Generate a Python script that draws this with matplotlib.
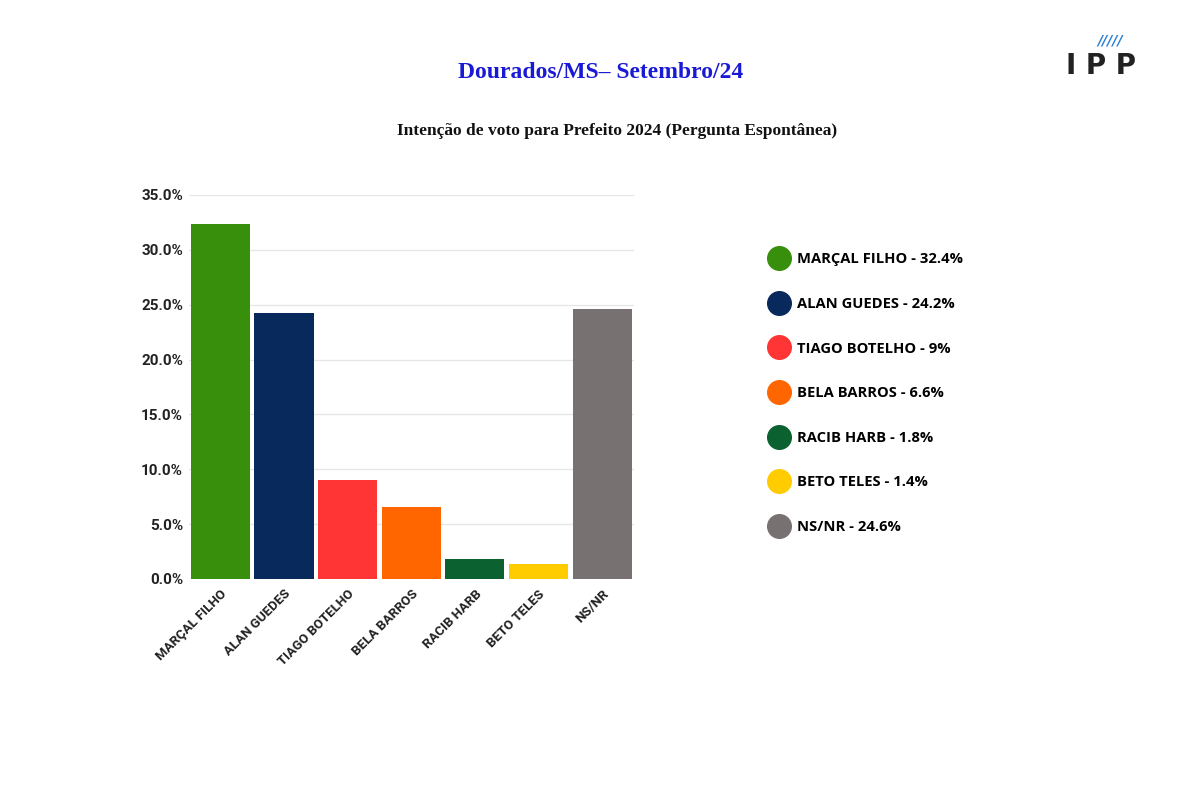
import matplotlib
matplotlib.use("Agg")
import matplotlib.pyplot as plt
from matplotlib.lines import Line2D
from matplotlib.ticker import FuncFormatter, MultipleLocator

CANDIDATES = ["MARÇAL FILHO", "ALAN GUEDES", "TIAGO BOTELHO", "BELA BARROS",
              "RACIB HARB", "BETO TELES", "NS/NR"]
VALUES = [32.4, 24.2, 9.0, 6.6, 1.8, 1.4, 24.6]
COLORS = ["#388f0b", "#08295c", "#ff3535", "#ff6600", "#0b6130", "#ffcc00", "#787172"]

TITLE = "Dourados/MS\u2013 Setembro/24"
SUBTITLE = "Intenção de voto para Prefeito 2024 (Pergunta Espontânea)"

fig = plt.figure(figsize=(11.79, 8.0), dpi=100)
fig.patch.set_facecolor("white")

ax = fig.add_axes([188.5 / 1179, 1 - 579 / 800, (634 - 188.5) / 1179, 384 / 800])
x = range(len(CANDIDATES))
ax.bar(x, VALUES, color=COLORS, width=0.93, zorder=3)
ax.set_xlim(-0.5, len(CANDIDATES) - 0.5)
ax.set_ylim(0, 35)
ax.yaxis.set_major_locator(MultipleLocator(5))
ax.yaxis.set_major_formatter(FuncFormatter(lambda v, _: f"{v:.1f}%"))
ax.grid(axis="y", color="#e6e6e6", linewidth=0.9, zorder=0)
for s in ax.spines.values():
    s.set_visible(False)
ax.tick_params(length=0)
ax.tick_params(axis="y", pad=4)
ax.tick_params(axis="x", pad=6)
ax.set_xticks(list(x))
ax.set_xticklabels(CANDIDATES, rotation=45, ha="right", rotation_mode="anchor",
                   fontsize=9.5, fontweight="bold", color="#222222", family="Roboto")
for lbl in ax.get_yticklabels():
    lbl.set_fontsize(11)
    lbl.set_fontweight("bold")
    lbl.set_color("#222222")
    lbl.set_family("Roboto")

handles = [Line2D([], [], marker="o", linestyle="", markersize=17, color=c) for c in COLORS]
labels = [f"{n} - {v:g}%" for n, v in zip(CANDIDATES, VALUES)]
fig.legend(handles, labels, loc="upper left", bbox_to_anchor=(757 / 1179, 1 - 245 / 800),
           frameon=False, handletextpad=0.25, labelspacing=2.08, borderpad=0,
           prop={"family": "Open Sans", "weight": "bold", "size": 10.6})

fig.text(601 / 1179, 1 - 72 / 800, TITLE, ha="center", va="center", fontsize=17,
         fontweight="bold", family="Liberation Serif", color="#1a1ad6")
fig.text(617 / 1179, 1 - 131 / 800, SUBTITLE, ha="center", va="center", fontsize=12.5,
         fontweight="bold", family="Liberation Serif", color="#111111")

# logo
fig.text(1101 / 1179, 1 - 66 / 800, "I P P", ha="center", va="center", fontsize=20,
         fontweight="bold", family="DejaVu Sans", color="#222222")
fig.text(1110 / 1179, 1 - 40 / 800, "/////", ha="center", va="center", fontsize=10,
         fontweight="bold", fontstyle="italic", family="DejaVu Sans", color="#2a7fd4")

fig.savefig("out.png", dpi=100, facecolor="white")
